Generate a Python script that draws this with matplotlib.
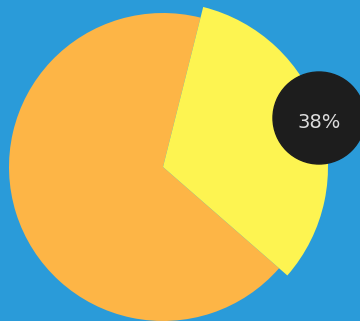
import matplotlib.pyplot as plt
from matplotlib.patches import Circle

# data
names = ['yellow', 'orange']
shares = [32.5, 67.5]
label_text = '38%'

colors = ['#fdf451', '#fdb546']

fig = plt.figure(figsize=(3.6, 3.21), dpi=100)
fig.patch.set_facecolor('#2a9bd9')
ax = fig.add_axes([0, 0, 1, 1])
ax.set_facecolor('#2a9bd9')

wedges, _ = ax.pie(shares, colors=colors, startangle=-41.1, counterclock=True,
                   center=(163, 154), radius=154, frame=True,
                   wedgeprops=dict(linewidth=0))
wedges[0].set_radius(165)   # the yellow slice sticks out
wedges[0].set_zorder(3)

ax.add_patch(Circle((319, 203), 46, color='#1d1d1d', zorder=5))
ax.text(319, 199, label_text, color='#dcdcdc', fontsize=14, family='DejaVu Sans',
        ha='center', va='center', zorder=6)

ax.set_xlim(0, 360)
ax.set_ylim(0, 321)
ax.set_aspect('equal')
ax.axis('off')

plt.savefig('out.png', dpi=100, facecolor=fig.get_facecolor())
